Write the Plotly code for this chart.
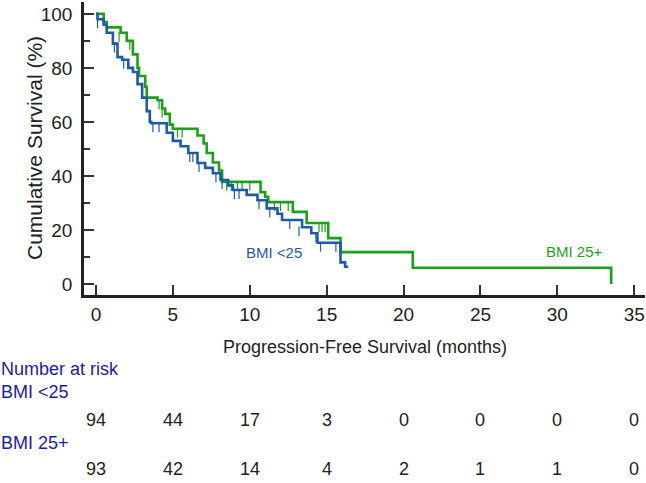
import plotly.graph_objects as go

# Kaplan-Meier steps (months, % surviving)
low_t = [0, 0.1, 0.5, 0.7, 1.1, 1.4, 1.7, 2.1, 2.4, 2.7, 3.0, 3.3, 3.5, 3.6, 4.6, 5.0, 5.5, 6.0,
         6.6, 7.1, 7.6, 8.1, 8.6, 8.9, 9.8, 10.5, 11.1, 11.8, 12.1, 13.4, 14.0, 14.4, 15.9, 16.2, 16.4]
low_s = [100, 98, 96, 93, 89, 84, 83, 80, 78.5, 74, 69, 64, 60, 59.5, 56, 53, 51, 48.5,
         44.8, 43, 41, 38.5, 36.5, 34.8, 33, 31, 28, 26, 23.7, 21, 18.8, 15.3, 8, 6.4, 6.4]
low_cens_t = [0.1, 1.2, 1.8, 3.7, 4.1, 6.1, 6.3, 6.7, 7.8, 8.2, 9.0, 9.3, 10.6, 11.3, 12.6, 13.2,
              14.3, 14.6, 15.6]
low_cens_s = [98, 89, 83, 59.5, 59.5, 48.5, 48.5, 44.8, 41, 38.5, 34.8, 34.8, 31, 28, 23.7, 21,
              18.8, 15.3, 15.3]

high_t = [0, 0.5, 0.7, 1.6, 2.0, 2.4, 2.7, 2.8, 3.2, 3.3, 4.0, 4.3, 4.5, 4.8, 5.0, 6.6, 7.0, 7.2,
          7.6, 8.0, 8.2, 10.7, 11.0, 11.2, 12.8, 13.7, 15.1, 15.9, 20.6, 33.5, 33.5]
high_s = [100, 97, 95, 93, 90, 85, 80, 77, 73, 69, 68, 65, 63, 59, 57.5, 55, 52, 48.5,
          45, 42, 37.8, 34, 32.3, 30.3, 26.7, 22.6, 17, 11.8, 6, 6, 0]
high_cens_t = [1.5, 2.2, 4.1, 4.3, 5.3, 5.6, 8.5, 8.8, 9.2, 9.5, 10.0, 11.6, 12.0, 12.5, 14.5,
               14.7, 14.9]
high_cens_s = [93, 90, 68, 65, 57.5, 57.5, 37.8, 37.8, 37.8, 37.8, 37.8, 30.3, 30.3, 30.3, 22.6,
               22.6, 22.6]

risk_times = [0, 5, 10, 15, 20, 25, 30, 35]
risk_low = [94, 44, 17, 3, 0, 0, 0, 0]
risk_high = [93, 42, 14, 4, 2, 1, 1, 0]

BLUE = "#1f5aa6"
GREEN = "#1d9e1d"
NAVY = "#1c1ca3"
FONT = "Liberation Sans, Arial, sans-serif"

fig = go.Figure()

for t, s, ct, cs, col in [(high_t, high_s, high_cens_t, high_cens_s, GREEN),
                          (low_t, low_s, low_cens_t, low_cens_s, BLUE)]:
    fig.add_trace(go.Scatter(x=t, y=s, mode="lines", line=dict(color=col, width=2.6, shape="hv"),
                             showlegend=False, hoverinfo="skip"))
    # censor ticks hang below the curve
    fig.add_trace(go.Scatter(x=ct, y=[v - 1.5 for v in cs], mode="markers",
                             marker=dict(symbol="line-ns", size=7, line=dict(color=col, width=1.2)),
                             showlegend=False, hoverinfo="skip"))

fig.add_annotation(x=11.6, y=11.5, xref="x", yref="y", text="BMI <25", showarrow=False,
                   font=dict(color=BLUE, size=15, family=FONT))
fig.add_annotation(x=31.1, y=12.2, xref="x", yref="y", text="BMI 25+", showarrow=False,
                   font=dict(color=GREEN, size=15, family=FONT))

# number at risk table
for txt, py in [("Number at risk", 369), ("BMI <25", 392), ("BMI 25+", 443)]:
    fig.add_annotation(x=0, y=(295 - py) / 293, xref="paper", yref="paper", xshift=-85,
                       text=txt, showarrow=False, xanchor="left", yanchor="middle",
                       font=dict(color=NAVY, size=18, family=FONT))
for t, a, b in zip(risk_times, risk_low, risk_high):
    fig.add_annotation(x=t, y=(295 - 420) / 293, xref="x", yref="paper", text=str(a),
                       showarrow=False, xanchor="center", yanchor="middle",
                       font=dict(color="#222", size=18, family=FONT))
    fig.add_annotation(x=t, y=(295 - 469) / 293, xref="x", yref="paper", text=str(b),
                       showarrow=False, xanchor="center", yanchor="middle",
                       font=dict(color="#222", size=18, family=FONT))

fig.add_annotation(x=0.5, y=(295 - 347) / 293, xref="paper", yref="paper",
                   text="Progression-Free Survival (months)", showarrow=False,
                   xanchor="center", yanchor="middle",
                   font=dict(color="#222", size=18, family=FONT))
fig.add_annotation(x=0, y=(295 - 148) / 293, xref="paper", yref="paper", xshift=-50,
                   text="Cumulative Survival (%)", textangle=-90, showarrow=False,
                   xanchor="center", yanchor="middle",
                   font=dict(color="#222", size=21, family=FONT))

fig.update_layout(
    width=646, height=483,
    margin=dict(l=84, r=1, t=2, b=188),
    plot_bgcolor="white", paper_bgcolor="white",
    font=dict(family=FONT, size=19, color="#222"),
    xaxis=dict(range=[-0.78, 35.7], tickvals=risk_times, ticks="inside", ticklen=10,
               tickwidth=1.5, tickcolor="#333", showline=True, linecolor="#222", linewidth=2.5,
               showgrid=False, zeroline=False, tickfont=dict(size=19), automargin=False),
    yaxis=dict(range=[-4.07, 104.4], tickvals=[0, 20, 40, 60, 80, 100], ticks="inside",
               ticklen=10, tickwidth=1.5, tickcolor="#333", showline=True, linecolor="#222",
               linewidth=2.5, showgrid=False, zeroline=False, tickfont=dict(size=19),
               ticklabelstandoff=5, automargin=False,
               minor=dict(tickvals=[10, 30, 50, 70, 90], ticks="inside", ticklen=6,
                          tickcolor="#333", tickwidth=1.5)),
)

# page body has a default 8px margin; drop it so the figure fills the window
fig.write_html("out.html", config={"displayModeBar": False},
               post_script="document.body.style.margin='0';")
